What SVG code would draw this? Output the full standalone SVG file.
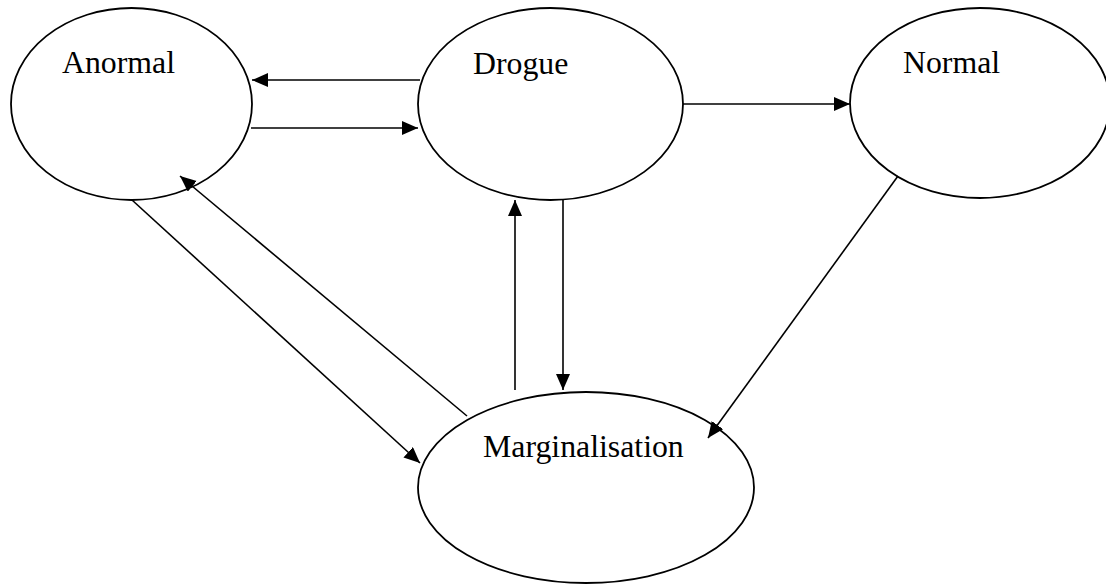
<svg xmlns="http://www.w3.org/2000/svg" width="1106" height="584" viewBox="0 0 1106 584">
<style>
.node{fill:#fff;stroke:#000;stroke-width:1.8}
.lbl{font-family:"Liberation Serif","Times New Roman",serif;font-size:31.8px;fill:#000}
.edge{stroke:#000;stroke-width:1.6;fill:none;marker-end:url(#ah)}
</style>
<defs>
<marker id="ah" markerUnits="userSpaceOnUse" markerWidth="17" markerHeight="15" refX="16" refY="7" orient="auto">
<path d="M0,0 L16,7 L0,14 Z" fill="#000"/>
</marker>
</defs>
<rect width="1106" height="584" fill="#fff"/>
<g id="anormal"><ellipse class="node" cx="131.5" cy="104" rx="120.5" ry="96"/><text class="lbl" x="62" y="73">Anormal</text></g>
<g id="drogue"><ellipse class="node" cx="550.5" cy="104" rx="132.5" ry="96"/><text class="lbl" x="473" y="74">Drogue</text></g>
<g id="normal"><ellipse class="node" cx="980" cy="103" rx="130" ry="95"/><text class="lbl" x="903" y="73">Normal</text></g>
<g id="marginalisation"><ellipse class="node" cx="586" cy="487.5" rx="168" ry="95.5"/><text class="lbl" x="483" y="457">Marginalisation</text></g>
<g id="connectors">
<line class="edge" x1="420" y1="80" x2="252" y2="80"/>
<line class="edge" x1="251" y1="128" x2="418" y2="128"/>
<line class="edge" x1="683" y1="104" x2="850" y2="104"/>
<line class="edge" x1="515" y1="390" x2="515" y2="200"/>
<line class="edge" x1="563" y1="200" x2="563" y2="390"/>
<line class="edge" x1="132" y1="200" x2="420" y2="463"/>
<line class="edge" x1="467" y1="416" x2="180" y2="176"/>
<line class="edge" x1="898" y1="176" x2="708" y2="438"/>
</g>
</svg>
